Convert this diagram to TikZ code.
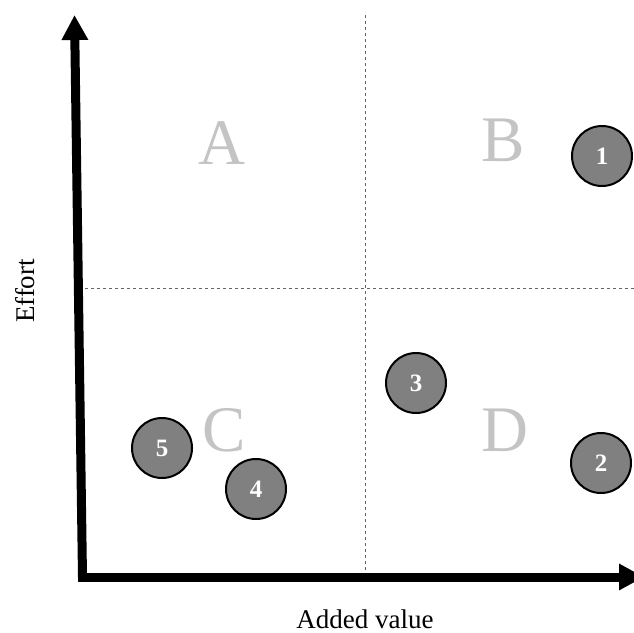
\documentclass[tikz,border=0pt]{standalone}
\usepackage{fontspec}
\setmainfont{Liberation Serif}
\usetikzlibrary{arrows.meta}

\definecolor{quadgray}{RGB}{196,196,196}
\definecolor{pointgray}{RGB}{128,128,128}
\definecolor{splitgray}{RGB}{100,100,100}

\begin{document}
\begin{tikzpicture}[x=1pt,y=-1pt,
    axis/.style={line width=9pt,-{Triangle[length=25pt,width=25pt]}},
    split/.style={splitgray,line width=0.9pt,dash pattern=on 3pt off 3pt},
    label/.style={inner sep=0pt,font=\fontsize{27}{27}\selectfont},
    quad/.style={quadgray,font=\fontsize{65}{65}\selectfont},
    point/.style={circle,draw=black,line width=2pt,fill=pointgray,
        minimum size=60pt,inner sep=0pt,text=white,
        font=\fontsize{25}{25}\selectfont\bfseries}]
    \useasboundingbox (0,0) rectangle (634,632);
    \clip (0,0) rectangle (634,632);

    % Horizontal and vertical split lines
    \draw[split] (365,15) -- (365,580);
    \draw[split] (85,288) -- (634,288);

    % Axes
    \coordinate (origin) at (82.5,577);
    \coordinate (ytip) at (74.5,15);
    \coordinate (xtip) at (644,577);
    \draw[axis] (78,577) -- (xtip);
    \draw[axis] (origin) -- (ytip);

    % Axis labels
    \node[label] (xlabel) at (365,619) {Added value};
    \node[label,rotate=90] (ylabel) at (25,291) {Effort};

    % Quadrant letters
    \node[quad] (qa) at (221.5,143.5) {A};
    \node[quad] (qb) at (503.5,140.5) {B};
    \node[quad] (qc) at (224,430) {C};
    \node[quad] (qd) at (505,430) {D};

    % Numbered points
    \node[point] (p1) at (602,156) {1};
    \node[point] (p2) at (601,463) {2};
    \node[point] (p3) at (416,383) {3};
    \node[point] (p4) at (256,489) {4};
    \node[point] (p5) at (162,448) {5};

\end{tikzpicture}
\end{document}
